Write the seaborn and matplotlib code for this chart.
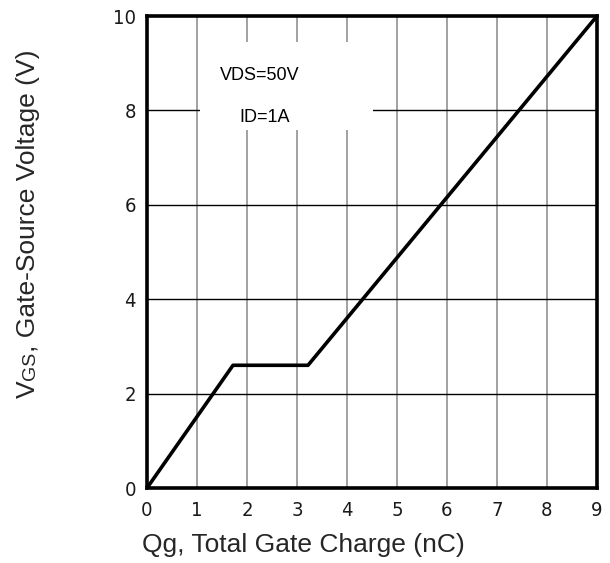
import matplotlib
matplotlib.use("Agg")
import matplotlib.pyplot as plt
import matplotlib.transforms as mtransforms
from matplotlib import font_manager
from matplotlib.patches import Rectangle
import seaborn as sns
import pandas as pd

# Gate charge curve: breakpoints of V_GS versus Q_g
qg_nc = [0.0, 1.72, 3.22, 9.0]
vgs_v = [0.0, 2.6, 2.6, 10.0]
x_ticks = [0, 1, 2, 3, 4, 5, 6, 7, 8, 9]
y_ticks = [0, 2, 4, 6, 8, 10]
conditions = ["VDS=50V", "ID=1A"]

sns.set_style("white")
plt.rcParams["font.family"] = ["Liberation Sans", "DejaVu Sans"]

# narrow face for the tick numbers, if a condensed font is available
tick_props = font_manager.FontProperties(family="DejaVu Sans", stretch="condensed")
try:
    cond_path = font_manager.findfont(tick_props, fallback_to_default=False)
except Exception:
    cond_path = ""
use_condensed = "Condensed" in cond_path

W, H, DPI = 610, 563, 100
fig = plt.figure(figsize=(W / DPI, H / DPI), dpi=DPI)
ax = fig.add_axes([147 / W, 1 - 488 / H, 450 / W, 472 / H])

df = pd.DataFrame({"Qg": qg_nc, "VGS": vgs_v})
sns.lineplot(data=df, x="Qg", y="VGS", ax=ax, color="black", linewidth=2.6,
             sort=False, zorder=3)

ax.set_xlim(0, 9)
ax.set_ylim(0, 10)
ax.set_xticks(x_ticks)
ax.set_yticks(y_ticks)
ax.set_xlabel("")
ax.set_ylabel("")

# grid: grey verticals, black horizontals
for x in x_ticks[1:-1]:
    ax.axvline(x, color="#9a9a9a", lw=1.3, zorder=0.5)
for y in y_ticks[1:-1]:
    ax.axhline(y, color="black", lw=1.0, zorder=0.5)

# white panel behind the test conditions
ax.add_patch(Rectangle((1.06, 7.58), 3.46, 1.87, facecolor="white",
                       edgecolor="none", zorder=1))
ax.text(2.26, 8.75, conditions[0], fontsize=13, ha="center", va="center",
        color="black", zorder=2)
ax.text(2.36, 7.86, conditions[1], fontsize=13, ha="center", va="center",
        color="black", zorder=2)

for s in ax.spines.values():
    s.set_visible(True)
    s.set_color("black")
    s.set_linewidth(2.6)

ax.tick_params(axis="both", length=0, labelsize=13, colors="#1a1a1a")
ax.tick_params(axis="y", pad=8)
ax.tick_params(axis="x", pad=9)
for lab in ax.get_xticklabels() + ax.get_yticklabels():
    if use_condensed:
        lab.set_family("DejaVu Sans")
        lab.set_stretch("condensed")
        lab.set_fontsize(14.5)

fig.text(142 / W, 1 - 552 / H, "Qg, Total Gate Charge (nC)", fontsize=19,
         ha="left", va="baseline")

# y label with smaller subscript letters, built piece by piece
fig.canvas.draw()
renderer = fig.canvas.get_renderer()
ident = mtransforms.IdentityTransform()
ypos = H - 398
for txt, size in [("V", 19), ("GS", 14), (", Gate-Source Voltage (V)", 19)]:
    t = fig.text(35, ypos, txt, fontsize=size, rotation=90, rotation_mode="anchor",
                 ha="left", va="baseline", transform=ident)
    bb = t.get_window_extent(renderer)
    ypos = bb.y1

fig.savefig("out.png", dpi=DPI)
